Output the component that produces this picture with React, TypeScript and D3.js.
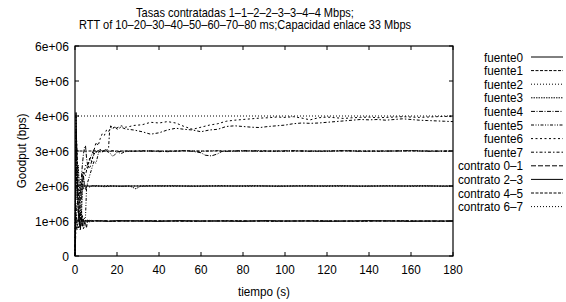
import React from 'react';
import * as d3 from 'd3';

// Goodput per source, [time (s), Mbps]
const fuente0: [number, number][] = [[0,0],[0.5,4.1],[1,2.3],[1.5,1.4],[2,0.95],[2.5,0.8],[3,1.1],[3.5,0.85],[4,1.05],[4.5,0.92],[5,1.03],[6,0.97],[7,1.02],[8,0.99],[10,1.01],[12,1.0],[16,0.99],[20,1.01],[30,1.0],[40,0.99],[50,1.01],[60,1.0],[70,1.0],[80,0.99],[90,1.01],[100,1.0],[110,1.0],[120,0.99],[130,1.0],[140,1.01],[150,1.0],[160,0.99],[170,1.0],[180,1.0]];
const fuente1: [number, number][] = [[0,0],[0.5,3.6],[1,3.0],[1.5,2.0],[2,1.2],[2.5,0.75],[3,0.9],[3.5,1.15],[4,0.78],[4.5,0.85],[5,0.95],[5.5,0.8],[6,1.05],[7,0.97],[8,1.02],[9,0.99],[10,1.0],[14,1.01],[18,0.99],[25,1.0],[35,1.01],[45,1.0],[55,0.99],[65,1.0],[75,1.01],[85,1.0],[95,0.99],[105,1.0],[115,1.01],[125,1.0],[135,0.99],[145,1.0],[155,1.01],[165,1.0],[175,0.99],[180,1.0]];
const fuente2: [number, number][] = [[0,0],[0.5,4.0],[1,2.6],[1.5,1.8],[2,1.5],[2.5,2.2],[3,1.7],[3.5,2.4],[4,1.9],[4.5,2.1],[5,1.95],[6,2.03],[7,1.98],[8,2.01],[10,1.99],[12,2.0],[16,2.01],[20,1.99],[28,2.0],[36,2.01],[44,1.99],[52,2.0],[60,2.0],[70,2.01],[80,1.99],[90,2.0],[100,2.0],[110,2.01],[120,1.99],[130,2.0],[140,2.0],[150,2.01],[160,1.99],[170,2.0],[180,2.0]];
const fuente3: [number, number][] = [[0,0],[0.5,3.2],[1,1.6],[1.5,2.6],[2,2.1],[2.5,1.3],[3,1.0],[3.5,1.9],[4,2.3],[4.5,2.05],[5,1.9],[6,2.02],[7,1.97],[8,2.0],[10,2.01],[14,1.98],[18,2.0],[22,1.99],[26,2.0],[29,1.92],[31,1.99],[36,2.0],[46,2.01],[56,1.99],[66,2.0],[76,2.0],[86,2.01],[96,1.99],[106,2.0],[116,2.0],[126,2.01],[136,1.99],[146,2.0],[156,2.0],[166,2.01],[176,1.99],[180,2.0]];
const fuente4: [number, number][] = [[0,0],[0.5,2.5],[1,1.8],[1.5,1.2],[2,1.0],[2.5,1.6],[3,2.2],[3.5,2.6],[4,2.9],[4.5,3.1],[5,3.15],[5.5,2.8],[6,2.6],[7,2.75],[8,2.9],[9,3.05],[10,2.95],[11,3.02],[12,2.97],[14,3.0],[16,2.98],[18,3.01],[20,2.98],[24,3.0],[28,2.99],[32,3.01],[36,2.99],[40,3.0],[44,2.98],[48,3.0],[52,3.01],[56,2.99],[60,2.95],[62,2.88],[65,2.86],[68,2.92],[70,2.99],[74,3.0],[80,3.01],[88,2.99],[96,3.0],[104,3.01],[112,2.99],[120,3.0],[128,3.01],[136,2.99],[144,3.0],[152,3.0],[160,3.01],[168,2.99],[176,3.0],[180,3.0]];
const fuente5: [number, number][] = [[0,0],[0.5,1.5],[1,0.9],[1.5,0.8],[2,0.85],[2.5,1.0],[3,1.3],[3.5,1.1],[4,1.05],[5,1.1],[5.5,1.95],[6,2.1],[7,2.3],[8,2.5],[9,2.7],[10,2.65],[11,2.9],[12,3.05],[13,2.97],[14,3.02],[15,3.0],[16,2.96],[17,2.92],[18,2.84],[19,2.9],[20,2.97],[22,2.93],[24,2.98],[28,3.0],[32,2.99],[36,3.01],[40,2.98],[44,3.0],[48,2.99],[52,3.01],[56,3.0],[60,2.99],[64,3.0],[68,3.01],[72,2.99],[80,3.0],[88,3.01],[96,2.99],[104,3.0],[112,3.0],[120,2.99],[128,3.01],[136,3.0],[144,2.99],[152,3.0],[160,3.01],[168,3.0],[176,2.99],[180,3.0]];
const fuente6: [number, number][] = [[0,0],[0.5,1.2],[1,0.8],[1.5,1.0],[2,1.4],[2.5,1.8],[3,2.0],[3.5,2.3],[4,2.2],[5,2.6],[6,2.5],[7,2.8],[8,2.7],[9,3.0],[10,3.25],[11,3.15],[12,3.35],[13,3.5],[14,3.45],[15,3.6],[16,3.55],[17,3.68],[18,3.62],[19,3.7],[20,3.66],[22,3.72],[24,3.68],[26,3.7],[28,3.73],[32,3.75],[36,3.82],[40,3.8],[44,3.84],[48,3.8],[52,3.7],[56,3.62],[60,3.68],[64,3.74],[68,3.78],[72,3.85],[76,3.88],[80,3.9],[84,3.92],[88,3.94],[92,3.95],[96,3.97],[100,3.96],[104,3.98],[108,3.94],[112,3.89],[116,3.95],[120,3.97],[124,3.95],[128,3.93],[132,3.95],[136,3.96],[140,3.97],[144,3.95],[148,3.96],[152,3.97],[156,3.98],[160,3.97],[164,3.96],[168,3.97],[172,3.98],[176,3.99],[180,3.98]];
const fuente7: [number, number][] = [[0,0],[0.5,0.9],[1,0.75],[1.5,0.8],[2,0.9],[2.5,1.1],[3,1.5],[3.5,2.0],[4,2.4],[5,2.3],[6,2.6],[7,2.5],[8,2.72],[9,2.9],[10,3.0],[11,2.95],[12,3.0],[13,2.98],[14,3.05],[15,3.02],[16,3.1],[16.5,3.6],[17,3.72],[18,3.65],[19,3.7],[20,3.62],[22,3.68],[24,3.63],[28,3.6],[32,3.55],[36,3.48],[40,3.52],[44,3.6],[48,3.65],[52,3.62],[56,3.6],[60,3.55],[64,3.6],[68,3.62],[72,3.7],[76,3.72],[80,3.7],[84,3.68],[88,3.67],[92,3.7],[96,3.72],[100,3.74],[104,3.78],[108,3.8],[112,3.79],[116,3.8],[120,3.82],[124,3.84],[128,3.86],[132,3.88],[136,3.9],[140,3.89],[144,3.9],[148,3.88],[152,3.9],[156,3.92],[160,3.9],[164,3.88],[168,3.87],[172,3.86],[176,3.85],[180,3.84]];

// contracted rates (Mbps)
const contratos = [1, 2, 3, 4];
const contratoNames = ['contrato 0–1', 'contrato 2–3', 'contrato 4–5', 'contrato 6–7'];
const fuenteNames = ['fuente0', 'fuente1', 'fuente2', 'fuente3', 'fuente4', 'fuente5', 'fuente6', 'fuente7'];

const xTicks = [0, 20, 40, 60, 80, 100, 120, 140, 160, 180];
const yTicks = [0, 1e6, 2e6, 3e6, 4e6, 5e6, 6e6];
const yTickLabels = ['0', '1e+06', '2e+06', '3e+06', '4e+06', '5e+06', '6e+06'];

// gnuplot-ish line types
const fuenteDash = ['none', '3,1.5', '1,2', '1.5,1', '4,1.5,1,1.5', '3,1.5,1,1.5,1,1.5', '2,2.5', '3,2,1.5,2'];
const contratoDash = ['5,2', 'none', '3,1.5', '1,2'];

const W = 566;
const H = 302;
const font = '"Liberation Sans", Arial, Helvetica, sans-serif';

// narrow-looking text, like the postscript Helvetica in the original
const T: React.FC<{ x: number; y: number; anchor?: string; sx?: number; size?: number; rotate?: number; children: React.ReactNode }> =
  ({ x, y, anchor = 'start', sx = 0.9, size = 13, rotate = 0, children }) => (
    <text transform={`translate(${x},${y}) rotate(${rotate}) scale(${sx},1)`} fontSize={size} textAnchor={anchor} fill="#000">
      {children}
    </text>
  );

const App: React.FC = () => {
  const left = 75, right = 453, top = 46, bottom = 256;
  const x = d3.scaleLinear().domain([0, 180]).range([left, right]);
  const y = d3.scaleLinear().domain([0, 6e6]).range([bottom, top]);

  const line = d3.line<[number, number]>()
    .x(d => x(d[0]))
    .y(d => y(d[1] * 1e6));

  const fuentes = [fuente0, fuente1, fuente2, fuente3, fuente4, fuente5, fuente6, fuente7];
  const legendItems = [
    ...fuenteNames.map((n, i) => ({ name: n, dash: fuenteDash[i] })),
    ...contratoNames.map((n, i) => ({ name: n, dash: contratoDash[i] })),
  ];

  return (
    <svg width={W} height={H} style={{ position: 'absolute', left: 0, top: 0, background: '#fff' }}
      fontFamily={font}>
      <T x={245} y={17} anchor="middle" sx={0.85}>Tasas contratadas 1–1–2–2–3–3–4–4 Mbps;</T>
      <T x={245} y={29} anchor="middle" sx={0.85}>RTT of 10–20–30–40–50–60–70–80 ms;Capacidad enlace 33 Mbps</T>

      {/* series */}
      <g fill="none" stroke="#000" strokeWidth={1}>
        {fuentes.map((s, i) => (
          <path key={i} d={line(s) || ''} strokeDasharray={fuenteDash[i]} />
        ))}
        {contratos.map((c, i) => (
          <path key={'c' + i} d={line([[0, c], [180, c]]) || ''} strokeDasharray={contratoDash[i]} />
        ))}
      </g>

      {/* ticks */}
      <g stroke="#000" strokeWidth={1}>
        {xTicks.map(t => (
          <g key={t}>
            <line x1={x(t)} x2={x(t)} y1={bottom} y2={bottom - 4} />
            <line x1={x(t)} x2={x(t)} y1={top} y2={top + 4} />
          </g>
        ))}
        {yTicks.map(t => (
          <g key={t}>
            <line x1={left} x2={left + 4} y1={y(t)} y2={y(t)} />
            <line x1={right} x2={right - 4} y1={y(t)} y2={y(t)} />
          </g>
        ))}
      </g>
      <rect x={left} y={top} width={right - left} height={bottom - top} fill="none" stroke="#000" strokeWidth={1.2} />

      {/* tick labels */}
      {xTicks.map(t => (
        <T key={'x' + t} x={x(t)} y={bottom + 18} anchor="middle">{t}</T>
      ))}
      {yTicks.map((t, i) => (
        <T key={'y' + t} x={left - 6} y={y(t) + 4.5} anchor="end" sx={0.93}>{yTickLabels[i]}</T>
      ))}

      <T x={(left + right) / 2} y={296} anchor="middle">tiempo (s)</T>
      <T x={26} y={(top + bottom) / 2} anchor="middle" rotate={-90}>Goodput (bps)</T>

      {/* legend */}
      {legendItems.map((it, i) => {
        const ly = 57 + i * 13.6;
        return (
          <g key={it.name}>
            <T x={523} y={ly + 4.5} anchor="end">{it.name}</T>
            <line x1={531} x2={563} y1={ly} y2={ly} stroke="#000" strokeWidth={1} strokeDasharray={it.dash} />
          </g>
        );
      })}
    </svg>
  );
};

export default App;
